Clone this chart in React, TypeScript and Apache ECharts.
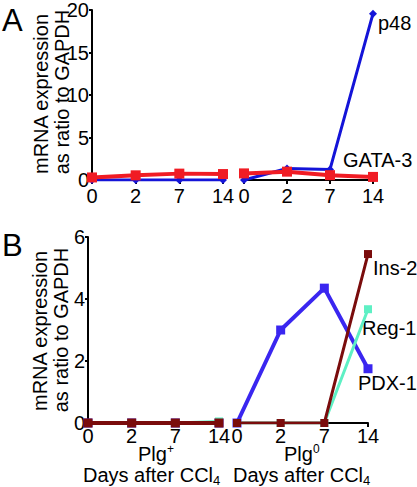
import React, { useEffect, useRef } from "react";
import * as echarts from "echarts";

const days = ["0", "2", "7", "14"];
const p48Plg = [0, 0, 0, 0];
const p48Plg0 = [0, 1.3, 1.2, 18.9];
const gata3Plg = [0.3, 0.55, 0.75, 0.7];
const gata3Plg0 = [0.75, 0.95, 0.55, 0.35];
const pdx1Plg = [0, 0, 0, 0];
const pdx1Plg0 = [0, 3.0, 4.35, 1.75];
const reg1Plg = [0, 0, 0, 0.05];
const reg1Plg0 = [0, 0, 0, 3.67];
const ins2Plg = [0, 0, 0, 0];
const ins2Plg0 = [0, 0, 0, 5.45];
const yMaxA = 20;
const yIntA = 5;
const yMaxB = 6;
const yIntB = 2;

const FONT = "'Liberation Sans', Arial, Helvetica, sans-serif";

export default function App() {
  const ref = useRef<HTMLDivElement>(null);
  useEffect(() => {
    document.body.style.margin = "0";
    const chart = echarts.init(ref.current!, null, { renderer: "svg" });
    const axisLine = { show: true, lineStyle: { color: "#000", width: 2 } };
    const xAxis = (gridIndex: number, margin: number) => ({
      type: "category",
      gridIndex,
      data: days,
      boundaryGap: false,
      axisLine,
      axisTick: { show: true, length: 4, lineStyle: { color: "#000", width: 2 } },
      axisLabel: { fontSize: 20, color: "#000", fontFamily: FONT, margin },
      splitLine: { show: false },
    });
    const yAxis = (gridIndex: number, max: number, interval: number, show: boolean) => ({
      type: "value",
      gridIndex,
      min: 0,
      max,
      interval,
      show,
      axisLine,
      axisTick: { show: true, length: 3, lineStyle: { color: "#000", width: 2 } },
      axisLabel: { fontSize: 20, color: "#000", fontFamily: FONT, margin: 3 },
      splitLine: { show: false },
    });
    const line = (
      name: string,
      data: number[],
      xi: number,
      color: string,
      width: number,
      symbol: string,
      size: number,
      z: number
    ) => ({
      name,
      type: "line",
      xAxisIndex: xi,
      yAxisIndex: xi,
      data,
      symbol,
      symbolSize: size,
      showSymbol: true,
      lineStyle: { color, width },
      itemStyle: { color },
      z,
    });
    const text = (t: string, x: number, y: number, opts: any = {}) => ({
      type: "text",
      x,
      y,
      rotation: opts.rotation || 0,
      style: {
        text: t,
        fontSize: opts.fontSize || 20,
        fontFamily: FONT,
        fontWeight: opts.fontWeight || "normal",
        fill: "#000",
        align: opts.align || "left",
        verticalAlign: opts.verticalAlign || "middle",
      },
    });
    chart.setOption({
      animation: false,
      grid: [
        { left: 92, top: 4, width: 131, height: 176 },
        { left: 244, top: 4, width: 129, height: 176 },
        { left: 88, top: 237, width: 131, height: 186 },
        { left: 237, top: 237, width: 131, height: 186 },
      ],
      xAxis: [xAxis(0, 6), xAxis(1, 6), xAxis(2, 3), xAxis(3, 3)],
      yAxis: [
        yAxis(0, yMaxA, yIntA, true),
        yAxis(1, yMaxA, yIntA, false),
        yAxis(2, yMaxB, yIntB, true),
        yAxis(3, yMaxB, yIntB, false),
      ],
      series: [
        line("p48", p48Plg, 0, "#1414d8", 3, "diamond", 8, 3),
        line("GATA-3", gata3Plg, 0, "#f01c24", 4, "rect", 10, 4),
        line("p48", p48Plg0, 1, "#1414d8", 3, "diamond", 8, 3),
        line("GATA-3", gata3Plg0, 1, "#f01c24", 4, "rect", 10, 4),
        line("PDX-1", pdx1Plg, 2, "#3a26f0", 4, "rect", 9, 3),
        line("Reg-1", reg1Plg, 2, "#5ef0c4", 3, "rect", 8, 4),
        line("Ins-2", ins2Plg, 2, "#7a0c0c", 4, "rect", 9, 5),
        line("PDX-1", pdx1Plg0, 3, "#3a26f0", 4, "rect", 9, 3),
        line("Reg-1", reg1Plg0, 3, "#5ef0c4", 3, "rect", 8, 4),
        line("Ins-2", ins2Plg0, 3, "#7a0c0c", 3, "rect", 8, 5),
      ],
      graphic: [
        text("A", 2, 20, { fontSize: 31 }),
        text("B", 2, 245, { fontSize: 31 }),
        text("mRNA expression", 41, 94, { rotation: Math.PI / 2, align: "center" }),
        text("as ratio to GAPDH", 62, 92, { rotation: Math.PI / 2, align: "center" }),
        text("mRNA expression", 40, 331, { rotation: Math.PI / 2, align: "center" }),
        text("as ratio to GAPDH", 61, 330, { rotation: Math.PI / 2, align: "center" }),
        text("p48", 378, 23),
        text("GATA-3", 343, 160),
        text("Ins-2", 373, 268),
        text("Reg-1", 362, 328),
        text("PDX-1", 358, 383),
        text("Plg", 138, 454),
        text("+", 167, 449, { fontSize: 12 }),
        text("Plg", 284, 454),
        text("0", 313, 449, { fontSize: 12 }),
        text("Days after CCl", 83, 475),
        text("4", 213, 480, { fontSize: 13 }),
        text("Days after CCl", 233, 475),
        text("4", 363, 480, { fontSize: 13 }),
      ],
    });
    return () => chart.dispose();
  }, []);
  return <div ref={ref} style={{ width: 417, height: 487 }} />;
}
